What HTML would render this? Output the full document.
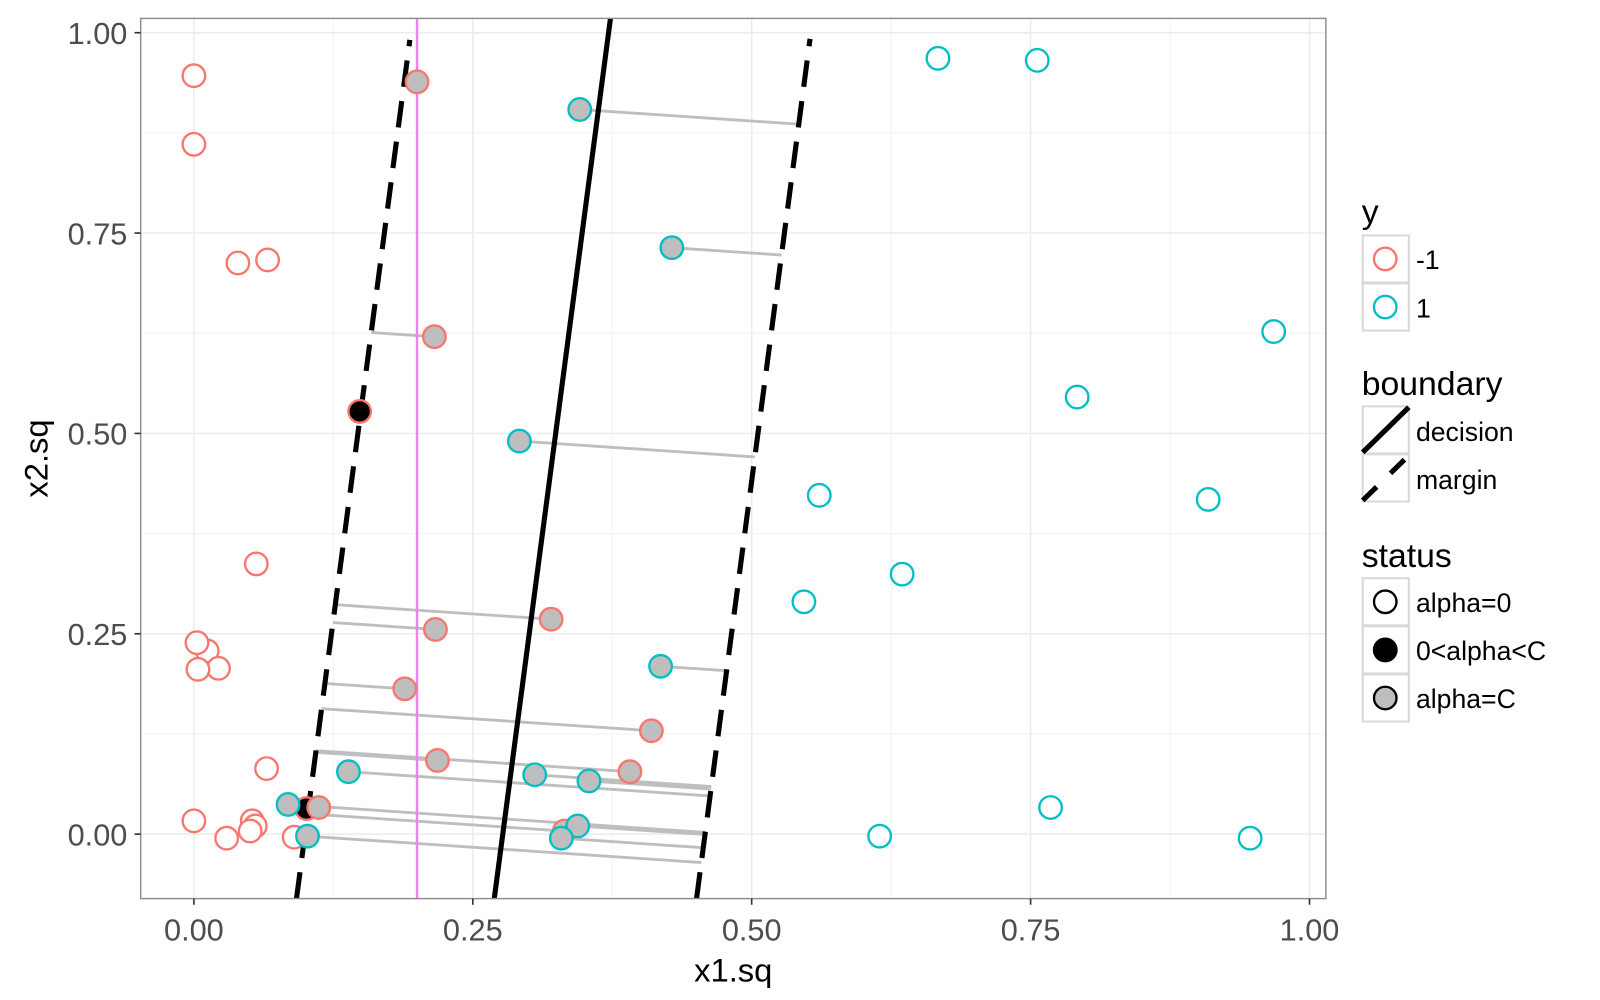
<!DOCTYPE html>
<html><head><meta charset="utf-8"><style>html,body{margin:0;padding:0;background:#fff}svg{display:block}</style></head>
<body>
<svg id="s" width="1600" height="1000" viewBox="0 0 1600 1000" xmlns="http://www.w3.org/2000/svg" font-family="Liberation Sans, sans-serif">
<g id="g" transform="translate(-1.6,1) scale(1.0235)"></g>
</svg>
<script>
const NS="http://www.w3.org/2000/svg";const g=document.getElementById('g');
function el(t,a,txt){const e=document.createElementNS(NS,t);for(const k in a)e.setAttribute(k,a[k]);if(txt!==undefined)e.textContent=txt;g.appendChild(e);return e;}
const X=v=>191+1090*v, Y=v=>814-783*v;
const L=139,R=1297,T=17,B=877;
el('rect',{x:L,y:T,width:R-L,height:B-T,fill:'#fff'});
for(const v of [0.125,0.375,0.625,0.875]){el('line',{x1:X(v),x2:X(v),y1:T,y2:B,stroke:'#F2F2F2','stroke-width':1});el('line',{x1:L,x2:R,y1:Y(v),y2:Y(v),stroke:'#F2F2F2','stroke-width':1});}
for(const v of [0,0.25,0.5,0.75,1]){el('line',{x1:X(v),x2:X(v),y1:T,y2:B,stroke:'#EBEBEB','stroke-width':1.4});el('line',{x1:L,x2:R,y1:Y(v),y2:Y(v),stroke:'#EBEBEB','stroke-width':1.4});}
const s=0.132;
const xL=y=>402-s*(y-38), xR=y=>793-s*(y-37), xD=y=>598-s*(y-17);
const sl=0.067;
function endp(px,py,f){let x=px;for(let i=0;i<30;i++){const y=py+sl*(x-px);x=f(y);}return [x,py+sl*(x-px)];}
const red='#F8766D',cy='#00BFC4';
const sv=[['r',409,79],['r',426,328],['r',540,604],['r',427,614],['r',397,672],['r',638,713],['r',429,742],['r',617,753],['r',313,788],['r',553,811],
['c',568,106],['c',658,241],['c',509,430],['c',647,650],['c',342,753],['c',524,756],['c',577,762],['c',283,785],['c',566,806],['c',550,818],['c',302,816]];
for(const [c,px,py] of sv){const [ex,ey]=endp(px,py,c=='r'?xL:xR);el('line',{x1:px,y1:py,x2:ex,y2:ey,stroke:'#BEBEBE','stroke-width':2.8});}
el('line',{x1:xD(B),y1:B,x2:xD(T),y2:T,stroke:'#000','stroke-width':5});
el('line',{x1:xL(B),y1:B,x2:xL(38),y2:38,stroke:'#000','stroke-width':5,'stroke-dasharray':'26 14'});
el('line',{x1:xR(B),y1:B,x2:xR(37),y2:37,stroke:'#000','stroke-width':5,'stroke-dasharray':'26 14'});
el('line',{x1:409,x2:409,y1:T,y2:B,stroke:'#EE82EE','stroke-width':2.4});
const r0=11;
const openR=[[191,73],[191,140],[234,256],[263,253],[252,550],[204,635],[194,627],[215,652],[195,653],[262,750],[191,801],[248,801],[251,806],[246,811],[223,818],[289,817]];
const openC=[[918,56],[1015,58],[1246,323],[1054,387],[802,483],[1182,487],[883,560],[787,587],[1028,788],[861,816],[1223,818]];
for(const [x,y] of openR)el('circle',{cx:x,cy:y,r:r0,fill:'#fff',stroke:red,'stroke-width':2.3});
for(const [x,y] of openC)el('circle',{cx:x,cy:y,r:r0,fill:'#fff',stroke:cy,'stroke-width':2.3});
el('circle',{cx:353,cy:401,r:r0,fill:'#000',stroke:red,'stroke-width':2.3});
el('circle',{cx:301,cy:789,r:r0,fill:'#000',stroke:red,'stroke-width':2.3});
for(const [c,px,py] of sv)el('circle',{cx:px,cy:py,r:r0,fill:'#BEBEBE',stroke:c=='r'?red:cy,'stroke-width':2.3});
el('rect',{x:L,y:T,width:R-L,height:B-T,fill:'none',stroke:'#8C8C8C','stroke-width':1.4});
const lab=['0.00','0.25','0.50','0.75','1.00'];
[0,0.25,0.5,0.75,1].forEach((v,i)=>{
el('line',{x1:X(v),x2:X(v),y1:B,y2:B+6,stroke:'#333','stroke-width':1.6});
el('text',{x:X(v),y:B+41,'text-anchor':'middle','font-size':30,fill:'#4D4D4D'},lab[i]);
el('line',{x1:L-6,x2:L,y1:Y(v),y2:Y(v),stroke:'#333','stroke-width':1.6});
el('text',{x:L-13,y:Y(v)+11,'text-anchor':'end','font-size':30,fill:'#4D4D4D'},lab[i]);});
el('text',{x:(L+R)/2,y:958,'text-anchor':'middle','font-size':32,fill:'#000'},'x1.sq');
el('text',{x:0,y:0,transform:'translate(48,447) rotate(-90)','text-anchor':'middle','font-size':32,fill:'#000'},'x2.sq');
const lx=-3;
function box(y){el('rect',{x:1336+lx,y:y,width:45,height:46,fill:'#fff',stroke:'#D9D9D9','stroke-width':2});}
el('text',{x:1335+lx,y:217,'font-size':33},'y');
box(229);box(276);
el('circle',{cx:1358+lx,cy:252,r:r0,fill:'none',stroke:red,'stroke-width':2.3});
el('circle',{cx:1358+lx,cy:299,r:r0,fill:'none',stroke:cy,'stroke-width':2.3});
el('text',{x:1388+lx,y:262,'font-size':26},'-1');el('text',{x:1388+lx,y:309,'font-size':26},'1');
el('text',{x:1335+lx,y:385,'font-size':33},'boundary');
box(396);box(443);
el('line',{x1:1336+lx,y1:441,x2:1381+lx,y2:397,stroke:'#000','stroke-width':5});
el('line',{x1:1336+lx,y1:488,x2:1381+lx,y2:444,stroke:'#000','stroke-width':5,'stroke-dasharray':'19 19'});
el('text',{x:1388+lx,y:430,'font-size':26},'decision');el('text',{x:1388+lx,y:477,'font-size':26},'margin');
el('text',{x:1335+lx,y:553,'font-size':33},'status');
box(564);box(611);box(658);
el('circle',{cx:1358+lx,cy:587,r:r0,fill:'#fff',stroke:'#000','stroke-width':2.3});
el('circle',{cx:1358+lx,cy:634,r:r0,fill:'#000',stroke:'#000','stroke-width':2.3});
el('circle',{cx:1358+lx,cy:681,r:r0,fill:'#BEBEBE',stroke:'#000','stroke-width':2.3});
el('text',{x:1388+lx,y:597,'font-size':26},'alpha=0');el('text',{x:1388+lx,y:644,'font-size':26},'0&lt;alpha&lt;C'.replace(/&lt;/g,'<'));el('text',{x:1388+lx,y:691,'font-size':26},'alpha=C');
</script>
</body></html>
